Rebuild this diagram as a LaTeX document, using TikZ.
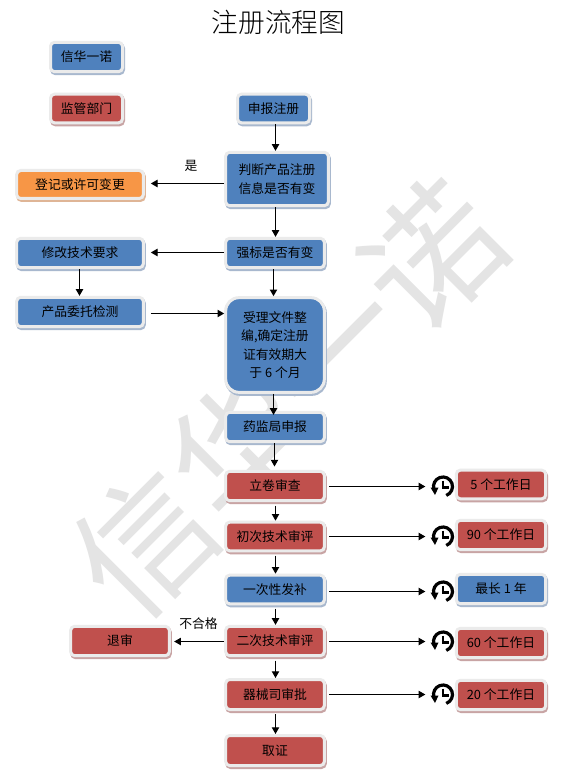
\documentclass[tikz,border=0pt]{standalone}
\usepackage{fontspec}
\setmainfont{Noto Sans CJK SC}
\newfontfamily\lightcjk{Noto Sans CJK SC Light}
\usetikzlibrary{shadows,arrows.meta}
\definecolor{wblue}{HTML}{4F81BD}
\definecolor{wred}{HTML}{C0504D}
\definecolor{worange}{HTML}{F79646}
\definecolor{sblue}{HTML}{A8B8CE}
\definecolor{sred}{HTML}{C8A4A4}
\definecolor{sorange}{HTML}{DFB596}
\definecolor{rim}{HTML}{EBEBEB}
\definecolor{mark}{HTML}{E4E4E4}
\tikzset{
  basebox/.style={draw=rim,line width=2.25pt,rounded corners=3pt,inner sep=0pt,align=center,text=black,
    font=\fontsize{9.6pt}{13.7pt}\selectfont},
  bluebox/.style={basebox,fill=wblue,general shadow={shadow xshift=.75pt,shadow yshift=-1.5pt,fill=sblue,draw=sblue}},
  redbox/.style={basebox,fill=wred,general shadow={shadow xshift=.75pt,shadow yshift=-1.5pt,fill=sred,draw=sred}},
  orangebox/.style={basebox,fill=worange,general shadow={shadow xshift=.75pt,shadow yshift=-1.5pt,fill=sorange,draw=sorange}},
  conn/.style={line width=.75pt,-{Triangle[length=5pt,width=5.5pt]}},
  tag/.style={font=\fontsize{9.6pt}{12pt}\selectfont,inner sep=0pt},
  clockspot/.style={minimum size=16.5pt,inner sep=0pt,outer sep=0pt},
  clockglyph/.pic={
    \begin{scope}[yscale=-1]
      \draw[line width=2.4pt] (-70:9.5) arc[start angle=-70,end angle=195,radius=9.5];
      \fill (-12.5,-1) -- (-4.5,-1) -- (-8,-8.5) -- cycle;
      \draw[line width=1.8pt] (0,6) -- (0,-1) -- (6,-1);
    \end{scope}
  }
}
\begin{document}
\begin{tikzpicture}[x=.75pt,y=-.75pt]
\useasboundingbox (0,0) rectangle (566,777);
\fill[white] (0,0) rectangle (566,777);
% watermark
\node[rotate=45,text=mark,inner sep=0pt,font=\fontsize{102pt}{102pt}\selectfont] (wm) at (288,399) {信华一诺};
% title
\node[inner sep=0pt,font=\lightcjk\fontsize{20pt}{24pt}\selectfont] (title) at (278.5,22) {注册流程图};
% legend
\node[bluebox,minimum width=54pt,minimum height=22pt] (lega) at (86.5,57) {信华一诺};
\node[redbox,minimum width=54pt,minimum height=21.5pt] (legb) at (86.5,108.5) {监管部门};
% main column
\node[bluebox,minimum width=54pt,minimum height=21.5pt] (sb) at (273.5,108.5) {申报注册};
\node[bluebox,minimum width=77pt,minimum height=40pt] (pd) at (277,179) {判断产品注册\\信息是否有变};
\node[orangebox,minimum width=95pt,minimum height=21pt] (dj) at (80,184.5) {登记或许可变更};
\node[bluebox,minimum width=95pt,minimum height=22pt] (xg) at (80,253) {修改技术要求};
\node[bluebox,minimum width=74pt,minimum height=22pt] (qb) at (275,253) {强标是否有变};
\node[bluebox,minimum width=95pt,minimum height=22pt] (wt) at (80,312) {产品委托检测};
\node[bluebox,minimum width=74pt,minimum height=71pt,rounded corners=10pt] (sl) at (275,345) {受理文件整\\编,确定注册\\证有效期大\\于 6 个月};
\node[bluebox,minimum width=74pt,minimum height=22pt] (yj) at (275,427) {药监局申报};
\node[redbox,minimum width=74pt,minimum height=22pt] (lj) at (275,486) {立卷审查};
\node[redbox,minimum width=74pt,minimum height=21.5pt] (cc) at (275,536.5) {初次技术审评};
\node[bluebox,minimum width=74pt,minimum height=21.5pt] (yc) at (275,589.5) {一次性发补};
\node[redbox,minimum width=74pt,minimum height=22pt] (ec) at (275,641) {二次技术审评};
\node[redbox,minimum width=74pt,minimum height=22.5pt] (qx) at (275,694.5) {器械司审批};
\node[redbox,minimum width=74pt,minimum height=22.5pt] (qz) at (275,750.5) {取证};
\node[redbox,minimum width=74pt,minimum height=22pt] (ts) at (120,641) {退审};
% right column
\node[redbox,minimum width=67pt,minimum height=21.5pt] (r1) at (501,484.5) {5 个工作日};
\node[redbox,minimum width=67pt,minimum height=22pt] (r2) at (501,535) {90 个工作日};
\node[bluebox,minimum width=67pt,minimum height=22pt] (r3) at (501,589) {最长 1 年};
\node[redbox,minimum width=67pt,minimum height=22pt] (r4) at (501,643) {60 个工作日};
\node[redbox,minimum width=67pt,minimum height=22pt] (r5) at (501,695) {20 个工作日};
% clocks
\node[clockspot] (c1) at (443,486.5) {};
\node[clockspot] (c2) at (443,536.5) {};
\node[clockspot] (c3) at (443,591.5) {};
\node[clockspot] (c4) at (443,641.5) {};
\node[clockspot] (c5) at (443,694.5) {};
\pic at (c1) {clockglyph};
\pic at (c2) {clockglyph};
\pic at (c3) {clockglyph};
\pic at (c4) {clockglyph};
\pic at (c5) {clockglyph};
% labels
\node[tag] (shi) at (191,166) {是};
\node[tag] (bhg) at (198.5,624) {不合格};
% connectors
\draw[conn] ([xshift=1.5pt]sb.south) -- ([xshift=1.5pt]sb.south |- pd.north);
\draw[conn] ([xshift=-1.125pt]pd.south) -- ([xshift=-1.125pt]pd.south |- qb.north);
\draw[conn] ([xshift=-1.125pt]qb.south) -- ([xshift=-1.125pt]qb.south |- sl.north);
\draw[conn,shorten >=-3pt] ([xshift=-1.125pt]sl.south) -- ([xshift=-1.125pt]sl.south |- yj.north);
\draw[conn,shorten >=2.5pt] ([xshift=-.375pt]yj.south) -- ([xshift=-.375pt]yj.south |- lj.north);
\draw[conn,shorten <=2.5pt] ([xshift=.375pt]lj.south) -- ([xshift=.375pt]lj.south |- cc.north);
\draw[conn,shorten <=2.5pt] ([xshift=.375pt]cc.south) -- ([xshift=.375pt]cc.south |- yc.north);
\draw[conn,shorten <=2.5pt] ([xshift=.375pt]yc.south) -- ([xshift=.375pt]yc.south |- ec.north);
\draw[conn,shorten <=2.5pt] ([xshift=.375pt]ec.south) -- ([xshift=.375pt]ec.south |- qx.north);
\draw[conn,shorten <=2.5pt] ([xshift=.375pt]qx.south) -- ([xshift=.375pt]qx.south |- qz.north);
\draw[conn,shorten >=4.5pt] ([yshift=.75pt]dj.east -| pd.west) -- ([yshift=.75pt]dj.east);
\draw[conn,shorten >=4.5pt] ([yshift=.375pt]qb.west) -- ([yshift=.375pt]qb.west -| xg.east);
\draw[conn] ([xshift=-.375pt]xg.south) -- ([xshift=-.375pt]xg.south |- wt.north);
\draw[conn,shorten <=4.5pt] ([yshift=-1.125pt]wt.east) -- ([yshift=-1.125pt]wt.east -| sl.west);
\draw[conn,shorten >=2.5pt] ([yshift=-.375pt]ec.west) -- ([yshift=-.375pt]ts.east);
\draw[conn,shorten <=2.5pt,shorten >=5pt] (c1.west -| lj.east) -- (c1.west);
\draw[conn,shorten <=2.5pt,shorten >=5pt] (c2.west -| cc.east) -- (c2.west);
\draw[conn,shorten <=2.5pt,shorten >=5pt] (c3.west -| yc.east) -- (c3.west);
\draw[conn,shorten <=2.5pt,shorten >=5pt] (c4.west -| ec.east) -- (c4.west);
\draw[conn,shorten <=2.5pt,shorten >=5pt] (c5.west -| qx.east) -- (c5.west);
\end{tikzpicture}
\end{document}
